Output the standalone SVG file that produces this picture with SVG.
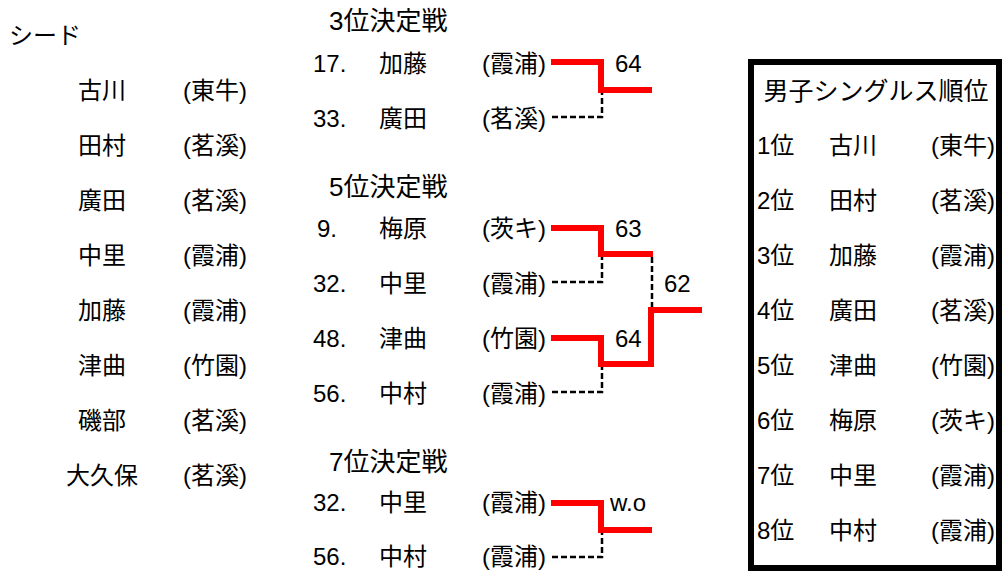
<svg xmlns="http://www.w3.org/2000/svg" width="1004" height="585" viewBox="0 0 1004 585">
<style>
text{font-family:"Liberation Sans","Noto Sans CJK JP",sans-serif;font-size:24px;fill:#000}
.h{font-size:26px}
.t{font-size:25px}
.c{text-anchor:middle}
.e{text-anchor:end}
.win{fill:none;stroke:#ff0000;stroke-width:6;stroke-linejoin:miter}
.lose{fill:none;stroke:#000;stroke-width:2.5;stroke-dasharray:6,3}
</style>
<rect width="1004" height="585" fill="#fff"/>
<g id="seed">
<text x="9" y="44">シード</text>
<text x="102" y="99" class="c">古川</text><text x="183" y="99">(東牛)</text>
<text x="102" y="154" class="c">田村</text><text x="183" y="154">(茗溪)</text>
<text x="102" y="209" class="c">廣田</text><text x="183" y="209">(茗溪)</text>
<text x="102" y="264" class="c">中里</text><text x="183" y="264">(霞浦)</text>
<text x="102" y="319" class="c">加藤</text><text x="183" y="319">(霞浦)</text>
<text x="102" y="374" class="c">津曲</text><text x="183" y="374">(竹園)</text>
<text x="102" y="429" class="c">磯部</text><text x="183" y="429">(茗溪)</text>
<text x="102" y="484" class="c">大久保</text><text x="183" y="484">(茗溪)</text>
</g>
<g id="match3">
<text x="329" y="30" class="h">3位決定戦</text>
<text x="313" y="72">17.</text><text x="379" y="72">加藤</text><text x="482" y="72">(霞浦)</text>
<text x="313" y="127">33.</text><text x="379" y="127">廣田</text><text x="482" y="127">(茗溪)</text>
<text x="615" y="72">64</text>
</g>
<g id="match5">
<text x="329" y="196" class="h">5位決定戦</text>
<text x="317" y="237">9.</text><text x="379" y="237">梅原</text><text x="482" y="237">(茨キ)</text>
<text x="313" y="292">32.</text><text x="379" y="292">中里</text><text x="482" y="292">(霞浦)</text>
<text x="313" y="347">48.</text><text x="379" y="347">津曲</text><text x="482" y="347">(竹園)</text>
<text x="313" y="402">56.</text><text x="379" y="402">中村</text><text x="482" y="402">(霞浦)</text>
<text x="615" y="237">63</text>
<text x="615" y="347">64</text>
<text x="664" y="292">62</text>
</g>
<g id="match7">
<text x="329" y="471" class="h">7位決定戦</text>
<text x="313" y="511">32.</text><text x="379" y="511">中里</text><text x="482" y="511">(霞浦)</text>
<text x="313" y="565">56.</text><text x="379" y="565">中村</text><text x="482" y="565">(霞浦)</text>
<text x="610" y="511">w.o</text>
</g>
<g id="connectors">
<polyline class="win" points="551,62 601,62 601,90 652,90"/>
<polyline class="lose" points="552,117 602,117 602,93"/>
<polyline class="win" points="551,228 601,228 601,254 653,254"/>
<polyline class="lose" points="552,282 602,282 602,257"/>
<polyline class="win" points="551,338 601,338 601,364 651,364 651,310 702,310"/>
<polyline class="lose" points="552,392 602,392 602,367"/>
<polyline class="lose" points="652,257 652,307"/>
<polyline class="win" points="551,503 601,503 601,530 652,530"/>
<polyline class="lose" points="552,557 602,557 602,533"/>
</g>
<g id="ranking">
<rect x="751" y="62" width="248" height="506" fill="none" stroke="#000" stroke-width="6"/>
<text x="876" y="100" class="t c">男子シングルス順位</text>
<text x="757" y="154">1位</text><text x="829" y="154">古川</text><text x="995" y="154" class="e">(東牛)</text>
<text x="757" y="209">2位</text><text x="829" y="209">田村</text><text x="995" y="209" class="e">(茗溪)</text>
<text x="757" y="264">3位</text><text x="829" y="264">加藤</text><text x="995" y="264" class="e">(霞浦)</text>
<text x="757" y="319">4位</text><text x="829" y="319">廣田</text><text x="995" y="319" class="e">(茗溪)</text>
<text x="757" y="374">5位</text><text x="829" y="374">津曲</text><text x="995" y="374" class="e">(竹園)</text>
<text x="757" y="429">6位</text><text x="829" y="429">梅原</text><text x="995" y="429" class="e">(茨キ)</text>
<text x="757" y="484">7位</text><text x="829" y="484">中里</text><text x="995" y="484" class="e">(霞浦)</text>
<text x="757" y="539">8位</text><text x="829" y="539">中村</text><text x="995" y="539" class="e">(霞浦)</text>
</g>
</svg>
